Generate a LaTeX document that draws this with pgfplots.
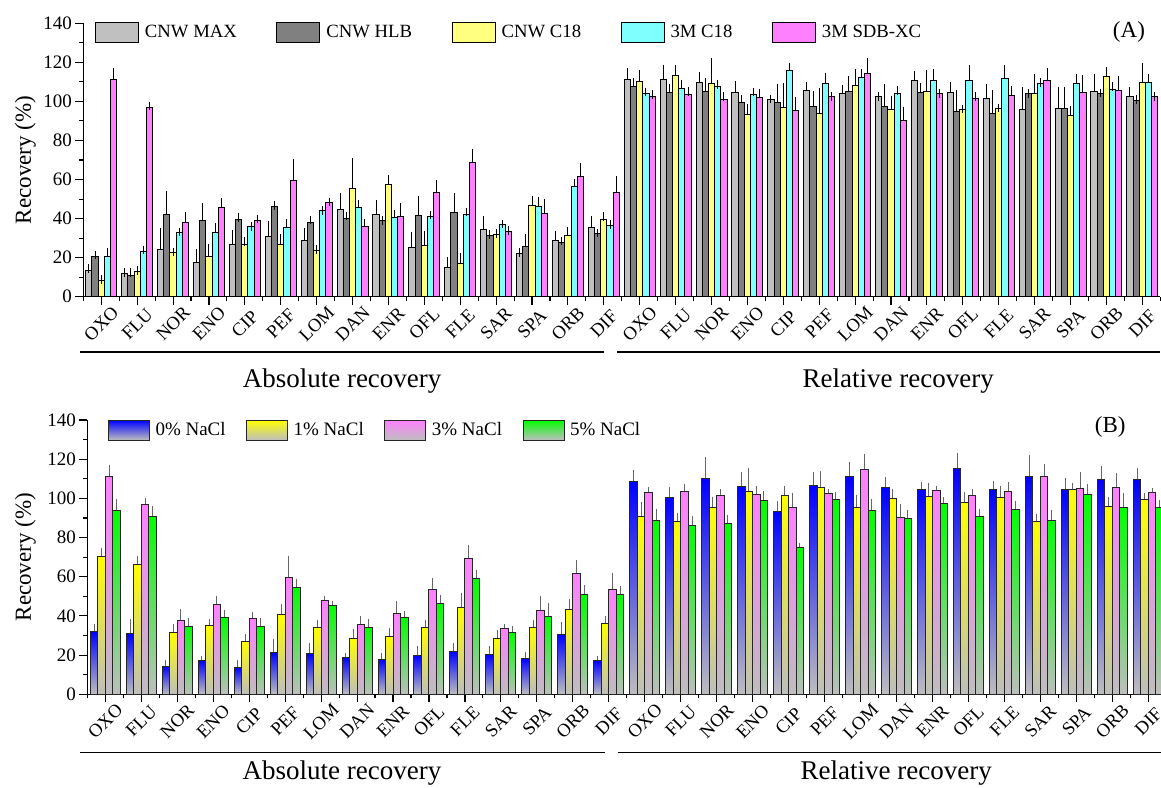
\documentclass[border=0pt]{standalone}
\usepackage{pgfplots}
\pgfplotsset{compat=1.18}
\usepackage{pgfplotstable}
\usepackage{fontspec}
\setmainfont{Liberation Serif}

% Panel A: a=CNW MAX, b=CNW HLB, c=CNW C18, d=3M C18, f=3M SDB-XC (value, upper error)
\pgfplotstableread{
x a ae b be c ce d de f fe
0 13.3 1.2 20.8 0.5 8.5 0.4 20.8 1.7 111 4
1 12 0.3 11 1.3 12.8 0.5 23 0.9 97 0.7
2 24.4 8.6 42.2 9.5 22.7 0.2 33 0.2 37.9 3.4
3 17.4 4.8 38.9 6.7 20.5 4.3 33 2.3 45.8 2.3
4 26.6 5.3 39.3 1.3 26.8 1.4 35.7 0.2 39.1 0.7
5 30.9 5.8 46.1 0.5 26.8 2.9 35.2 2.4 59.6 8.5
6 28.7 4.1 38.1 1.2 23.9 0.2 43.9 0.2 48.3 0.2
7 44.4 6.5 40.1 1.2 55.5 13.1 45.9 1.6 35.8 1.9
8 42.3 5.2 38.9 0.2 57.5 2.5 40.6 1.7 41 4.6
9 25.3 5.4 41.5 8 26.1 5.3 41 0.8 53.4 4.1
10 15 3.1 43.2 7.5 17.1 2.9 42.3 1.1 68.8 4.8
11 34.5 4.4 31.4 0.5 31.8 0.6 37 0.2 33.6 0.2
12 21.9 0.8 25.6 4.1 46.8 2.7 46.1 2.9 42.7 5.1
13 29 2.6 28 0.5 31.4 1.9 56.5 1.7 61.8 4.3
14 35.5 3.4 32.4 0.2 39.6 1.4 36.4 0.6 53.6 5.8
15 111.3 3.6 107.5 2.1 110.3 3.7 104.1 0.7 102.6 1.0
16 111.3 5.4 104.8 1.9 113.2 3.3 106.7 2.3 103.6 1.4
17 109.9 2.8 105.2 4.4 109.4 10.8 107.4 1.2 101.2 1.2
18 104.8 3.2 99.7 1.5 93.5 3.0 103.4 1.4 101.9 2.1
19 101.1 0.2 99.5 7 97.1 9.9 115.9 1.7 95.1 5.1
20 105.7 1.8 97.5 5.8 93.9 10.9 109.4 3.1 102.3 0.2
21 103.8 2.6 105.2 5.5 108.1 6.1 112.3 1.9 114.4 5.6
22 102.4 0.2 97.5 9 95.8 4.6 104.1 1.6 90.1 5
23 110.9 2.4 104.8 2.4 105.2 8.8 110.9 3.4 104 0.2
24 104.8 2.7 94.6 9 95.8 0.3 110.9 5.4 101.5 1.1
25 101.5 5 93.6 10.2 96.3 0.3 111.6 4.6 103.1 2.4
26 96 9 103.8 0.3 104.3 7.3 109.2 0.4 110.9 4.1
27 96.5 8.9 96.5 8.5 92.7 2.9 109.2 2.4 104.6 6.7
28 105.2 6.8 104.1 0.3 113 2.2 105.9 1.6 105.4 5.3
29 102.4 2.6 100.7 0.2 109.7 7.7 109.6 2.4 102.4 0.2
}\tabA

% Panel B: a=0% NaCl, b=1% NaCl, c=3% NaCl, d=5% NaCl
\pgfplotstableread{
x a ae b be c ce d de
0 32.2 1.3 70.3 2.2 111.3 3.7 93.7 3.8
1 30.8 5.4 66.4 2 97 0.8 90.7 3
2 14.4 0.7 31.5 2.2 37.9 3.3 34.4 2.3
3 17.3 0.2 34.9 1.1 45.6 2.3 39.1 1.9
4 13.8 1.3 26.9 1.6 38.9 0.7 34.7 1.8
5 21.4 4.6 40.6 3.1 59.7 8.9 54.6 2.3
6 20.6 3.3 34.2 1.7 48 0.2 45.4 0.2
7 18.9 0.2 28.7 2.3 35.4 2.2 34 2.1
8 17.9 1 29.6 1.9 41.1 4.3 39.3 0.8
9 19.9 2.5 34.2 1.7 53.6 3.6 46.3 2
10 21.9 1.9 44.2 5.1 69.1 4.7 59.2 2
11 20.4 1.9 28.6 1.9 33.5 0.2 31.8 0.8
12 18.5 0.7 34.2 1.3 42.7 5.1 39.6 4.6
13 30.6 4 43.4 3 61.9 4.4 51 2.4
14 17.2 0.2 35.9 1.9 53.6 6.2 51 2.3
15 108.5 3.8 90.9 5.1 102.9 0.5 88.8 3.4
16 100.6 3 88.1 2.4 103.6 1.7 86.4 2.6
17 110.3 8.4 95.3 3.2 101.6 1 87.3 2
18 106 5.3 103.6 9.7 102.2 1.9 99 2.4
19 93.4 2.9 101.5 2.4 95.3 5.3 74.7 0.3
20 106.8 4.5 105.5 6.3 102.6 0.2 99.4 1.5
21 111.1 5.4 95.4 4 114.8 5.5 93.9 3.4
22 105.5 3.2 99.9 2.7 90.2 4.6 89.5 2.4
23 104.7 1.3 100.8 4.8 104 0.2 97.2 1.2
24 115.5 5.5 98 3.2 101.7 1.1 90.9 1.5
25 104.5 2.3 100.2 3.8 103.4 2.6 94.2 2.2
26 111.4 8.6 88 1.7 111.4 3.8 88.8 3.1
27 104.7 3.6 104.7 0.9 105.1 6.2 101.8 3.1
28 109.6 4.9 95.9 2.6 105.7 5.1 95.3 5.1
29 109.6 3.7 99.2 1.4 103 0.2 95.5 1.5
}\tabB

\definecolor{cmax}{HTML}{C0C0C0}
\definecolor{chlb}{HTML}{808080}
\definecolor{cyel}{HTML}{FFFF80}
\definecolor{ccya}{HTML}{80FFFF}
\definecolor{cpnk}{HTML}{FF80FF}
\definecolor{gbot}{HTML}{BEBEBE}
\definecolor{bblue}{HTML}{0000FF}
\definecolor{byel}{HTML}{FFFF00}
\definecolor{bgrn}{HTML}{00FF00}

\pgfplotsset{
  boxleg/.style={legend image code/.code={\draw[##1,line width=1pt] (0pt,-10pt) rectangle (43pt,10pt); \path (49pt,0pt);}},
  gleg/.style={legend image code/.code={\draw[top color=#1, bottom color=gbot, draw=black!85, line width=1pt] (0pt,-10pt) rectangle (41pt,10pt); \path (47pt,0pt);}},
  gbar/.style 2 args={draw=none, fill=none, gleg=#1,
    visualization depends on={y \as \rawy},
    nodes near coords={},
    every node near coord/.style={anchor=north, inner sep=0pt, outer sep=0pt, xshift=#2,
      minimum width=7.5pt, minimum height=\rawy*1.95929pt,
      top color=#1, bottom color=gbot, draw=black!85, line width=1pt}},
  common/.style={
    scale only axis,
    xmin=-0.5, xmax=29.5, ymin=0, ymax=140,
    axis x line*=bottom, axis y line*=left,
    axis line style={line width=1.2pt, black},
    tick style={line width=1.1pt, black},
    tick align=outside,
    major tick length=8pt, minor tick length=4pt,
    ytick={0,20,...,140}, minor y tick num=1,
    xtick={0,...,29},
    minor xtick={-0.5,0.5,...,29.5},
    xticklabels={OXO,FLU,NOR,ENO,CIP,PEF,LOM,DAN,ENR,OFL,FLE,SAR,SPA,ORB,DIF,OXO,FLU,NOR,ENO,CIP,PEF,LOM,DAN,ENR,OFL,FLE,SAR,SPA,ORB,DIF},
    /pgf/number format/assume math mode=true,
    yticklabel style={font=\fontsize{19}{19}\selectfont},
    xticklabel style={font=\fontsize{18.5}{18.5}\selectfont, yshift=-19pt, rotate=45, anchor=center},
    ylabel={Recovery (\%)},
    ybar=0pt,
    clip=false,
    legend columns=-1,
  },
}

\begin{document}
\begin{tikzpicture}
\useasboundingbox (0,0) rectangle (1161pt,-787pt);
% ---------------- Panel A ----------------
\begin{axis}[common,
  width=1077pt, height=273.4pt,
  at={(83.3pt,-296.7pt)}, anchor=south west,
  every axis y label/.style={at={(axis description cs:-0.0539,0.5)}, rotate=90, anchor=center, font=\fontsize{23}{23}\selectfont},
  bar width=6.2pt,
  legend style={draw=none, fill=none, inner sep=0pt, outer sep=0pt,
    nodes={inner sep=0pt},
    at={(axis description cs:0,1)}, anchor=west, xshift=11.7pt, yshift=-8.7pt,
    font=\fontsize{18.7}{20}\selectfont,
    /tikz/every even column/.append style={column sep=39.5pt}},
  every axis plot/.append style={line width=1pt, draw=black,
    error bars/y dir=plus, error bars/y explicit,
    error bars/error bar style={line width=1pt, black},
    error bars/error mark options={black, mark size=4.3pt, line width=1pt}},
]
\addplot[fill=cmax, boxleg] table[x=x, y=a, y error=ae]{\tabA};
\addplot[fill=chlb, boxleg] table[x=x, y=b, y error=be]{\tabA};
\addplot[fill=cyel, boxleg] table[x=x, y=c, y error=ce]{\tabA};
\addplot[fill=ccya, boxleg] table[x=x, y=d, y error=de]{\tabA};
\addplot[fill=cpnk, boxleg] table[x=x, y=f, y error=fe]{\tabA};
\legend{CNW MAX, CNW HLB, CNW C18, 3M C18, 3M SDB-XC}
\node[font=\fontsize{23}{23}\selectfont] at (axis description cs:0.9709,0.9696) {(A)};
\draw[line width=1.1pt] ([yshift=-55.3pt]axis cs:-0.59,0) -- ([yshift=-55.3pt]axis cs:14.01,0);
\draw[line width=1.1pt] ([yshift=-55.3pt]axis cs:14.37,0) -- ([yshift=-55.3pt]axis cs:29.5,0);
\node[font=\fontsize{27}{27}\selectfont] at ([yshift=-84pt]axis cs:6.71,0) {Absolute recovery};
\node[font=\fontsize{27}{27}\selectfont] at ([yshift=-84pt]axis cs:22.2,0) {Relative recovery};
\end{axis}
% ---------------- Panel B ----------------
\begin{axis}[common,
  width=1079pt, height=274.3pt,
  at={(87.3pt,-694.3pt)}, anchor=south west,
  every axis y label/.style={at={(axis description cs:-0.0575,0.5)}, rotate=90, anchor=center, font=\fontsize{23}{23}\selectfont},
  bar width=7.5pt,
  legend style={draw=none, fill=none, inner sep=0pt, outer sep=0pt,
    nodes={inner sep=0pt},
    at={(axis description cs:0,1)}, anchor=west, xshift=20.7pt, yshift=-10pt,
    font=\fontsize{19}{20}\selectfont,
    /tikz/every even column/.append style={column sep=20.5pt}},
  every axis plot/.append style={line width=1pt,
    error bars/y dir=plus, error bars/y explicit,
    error bars/error bar style={line width=1pt, black!60},
    error bars/error mark options={black!60, mark size=4.3pt, line width=1pt}},
]
\addplot[gbar={bblue}{-11.25pt}] table[x=x, y=a, y error=ae]{\tabB};
\addplot[gbar={byel}{-3.75pt}] table[x=x, y=b, y error=be]{\tabB};
\addplot[gbar={cpnk}{3.75pt}] table[x=x, y=c, y error=ce]{\tabB};
\addplot[gbar={bgrn}{11.25pt}] table[x=x, y=d, y error=de]{\tabB};
\legend{0\% NaCl, 1\% NaCl, 3\% NaCl, 5\% NaCl}
\node[font=\fontsize{23}{23}\selectfont] at (axis description cs:0.9481,0.9763) {(B)};
\draw[line width=1.1pt] ([yshift=-58pt]axis cs:-0.7,0) -- ([yshift=-58pt]axis cs:13.9,0);
\draw[line width=1.1pt] ([yshift=-58pt]axis cs:14.25,0) -- ([yshift=-58pt]axis cs:29.5,0);
\node[font=\fontsize{27}{27}\selectfont] at ([yshift=-79pt]axis cs:6.58,0) {Absolute recovery};
\node[font=\fontsize{27}{27}\selectfont] at ([yshift=-79pt]axis cs:21.99,0) {Relative recovery};
\end{axis}
\end{tikzpicture}
\end{document}
